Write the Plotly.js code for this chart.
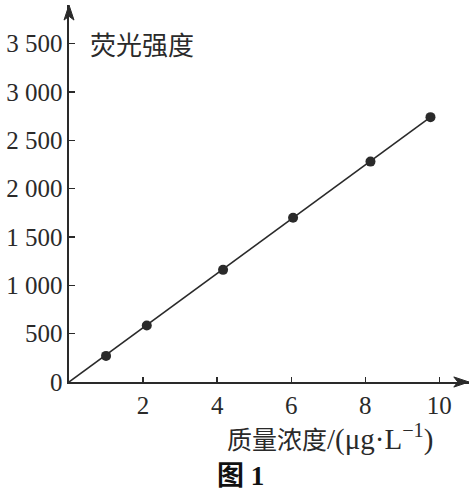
<!DOCTYPE html>
<html>
<head>
<meta charset="utf-8">
<script src="https://cdn.plot.ly/plotly-3.0.1.min.js"></script>
<style>html,body{margin:0;padding:0;background:#fff;}#chart{width:476px;height:494px;}</style>
</head>
<body>
<div id="chart"></div>
<script>
// Data
const concentration = [1.0, 2.1, 4.16, 6.05, 8.14, 9.76];
const intensity = [270, 585, 1160, 1700, 2280, 2740];
const fitX = [0, 9.76];
const fitY = [0, 2740];
const xTickVals = [2, 4, 6, 8, 10];
const xTickText = ['2', '4', '6', '8', '10'];
const yTickVals = [0, 500, 1000, 1500, 2000, 2500, 3000, 3500];
const yTickText = ['0', '500', '1 000', '1 500', '2 000', '2 500', '3 000', '3 500'];
const yTitle = '荧光强度';
const xTitle = '质量浓度<span style="font-family:Liberation Serif;font-size:29px">/(μg·L<sup>−1</sup>)</span>';
const caption = '<b>图 1</b>';

const ink = '#2a2a2a';
const serif = 'Liberation Serif, Times New Roman, serif';
const cjk = 'Noto Sans CJK SC, Noto Sans, sans-serif';

const traces = [
  {x: fitX, y: fitY, mode: 'lines', line: {color: ink, width: 1.6}, hoverinfo: 'skip'},
  {x: concentration, y: intensity, mode: 'markers', marker: {color: ink, size: 10}}
];

const layout = {
  width: 476, height: 494,
  margin: {l: 69, r: 7, t: 5, b: 112},
  paper_bgcolor: '#fff', plot_bgcolor: '#fff',
  showlegend: false,
  xaxis: {
    range: [0, 10.8], showgrid: false, zeroline: false,
    showline: true, linecolor: ink, linewidth: 1.6,
    ticks: 'inside', ticklen: 5, tickcolor: ink, tickwidth: 1.4,
    tickvals: xTickVals, ticktext: xTickText,
    tickfont: {family: serif, size: 25, color: ink},
    ticklabelstandoff: 0
  },
  yaxis: {
    range: [0, 3900], showgrid: false, zeroline: false,
    showline: true, linecolor: ink, linewidth: 1.6,
    ticks: 'inside', ticklen: 6, tickcolor: ink, tickwidth: 1.4,
    tickvals: yTickVals, ticktext: yTickText,
    tickfont: {family: serif, size: 25, color: ink}
  },
  shapes: [
    {type: 'path', xref: 'paper', yref: 'paper',
     path: 'M 1 0 L 0.962 0.0135 L 0.972 0 L 0.962 -0.0135 Z',
     fillcolor: ink, line: {color: ink, width: 1}},
    {type: 'path', xref: 'paper', yref: 'paper',
     path: 'M 0 1 L -0.0125 0.96 L 0 0.97 L 0.0125 0.96 Z',
     fillcolor: ink, line: {color: ink, width: 1}}
  ],
  annotations: [
    {xref: 'paper', yref: 'y', x: 0.0475, y: 3500, xanchor: 'left', yanchor: 'middle',
     showarrow: false, text: yTitle, font: {family: cjk, size: 26, color: ink}},
    {xref: 'paper', yref: 'paper', x: 0.6525, y: -0.146, xanchor: 'center', yanchor: 'middle',
     showarrow: false, text: xTitle, font: {family: cjk, size: 25, color: ink}},
    {xref: 'paper', yref: 'paper', x: 0.4275, y: -0.25, xanchor: 'center', yanchor: 'middle',
     showarrow: false, text: caption,
     font: {family: 'Liberation Serif, Noto Sans CJK SC, serif', size: 27, color: '#111'}}
  ]
};

Plotly.newPlot('chart', traces, layout, {staticPlot: true, displayModeBar: false});
</script>
</body>
</html>
